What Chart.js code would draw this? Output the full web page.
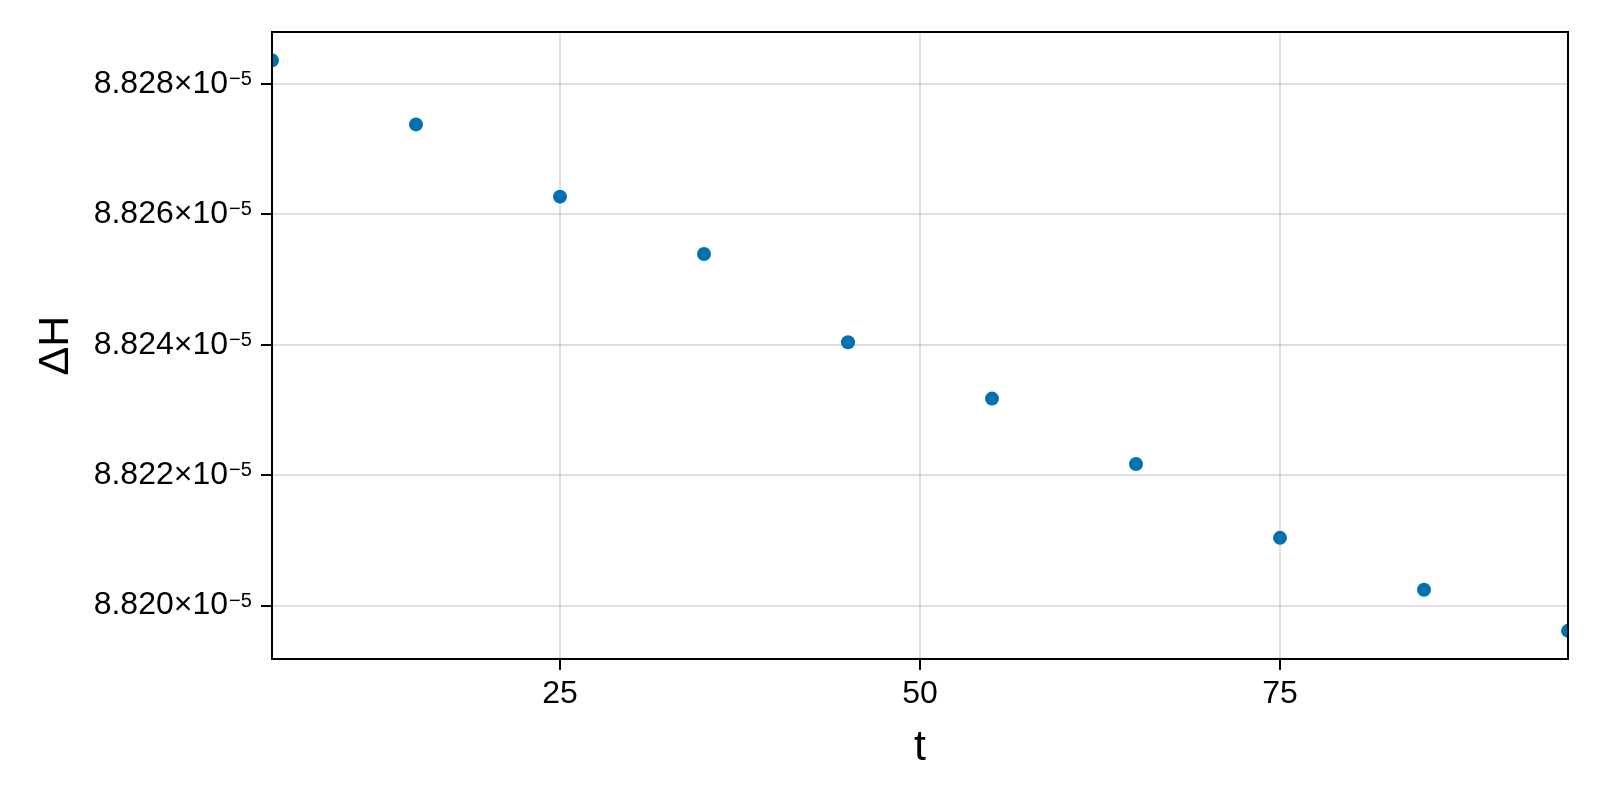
<!DOCTYPE html>
<html>
<head>
<meta charset="utf-8">
<script src="https://cdn.jsdelivr.net/npm/chart.js@4.4.1/dist/chart.umd.min.js"></script>
<style>
  html, body { margin: 0; padding: 0; background: #ffffff; }
  #wrap { width: 1600px; height: 800px; }
</style>
</head>
<body>
<div id="wrap"><canvas id="c" width="1600" height="800"></canvas></div>
<script>
// ---- data ----
const tValues = [5, 15, 25, 35, 45, 55, 65, 75, 85, 95];
// ΔH in units of 1e-5
const deltaH_e5 = [8.828365, 8.827382, 8.826274, 8.825395, 8.824041, 8.823175, 8.822170, 8.821039, 8.820242, 8.819612];
const xTicks = [25, 50, 75];
const yTicks = [8.820, 8.822, 8.824, 8.826, 8.828];
const yTickExponent = '−5';
const xLimits = [5, 95];
const yLimits = [8.81918, 8.82880];
const xLabel = 't';
const yLabel = 'ΔH';

const FONT = "'Liberation Sans', Arial, Helvetica, sans-serif";
const TICK_SIZE = 32;
const SUP_SIZE = 20;
const SUP_GAP = 24;   // horizontal room reserved for the exponent

const framePlugin = {
  id: 'frame',
  afterDatasetsDraw(chart) {
    const { ctx, chartArea: a } = chart;
    ctx.save();
    ctx.strokeStyle = '#000000';
    ctx.lineWidth = 2;
    ctx.strokeRect(a.left, a.top, a.right - a.left, a.bottom - a.top);
    ctx.restore();
  }
};

// draws the superscript exponent after each y tick label
const exponentPlugin = {
  id: 'exponent',
  afterDraw(chart) {
    const s = chart.scales.y;
    const ctx = chart.ctx;
    const tl = s.options.grid.tickLength;
    const xStart = s.right - tl - s.options.ticks.padding + 1;
    ctx.save();
    ctx.fillStyle = '#000000';
    ctx.font = SUP_SIZE + 'px ' + FONT;
    ctx.textAlign = 'left';
    ctx.textBaseline = 'alphabetic';
    s.ticks.forEach(t => {
      const py = s.getPixelForValue(t.value);
      ctx.fillText(yTickExponent, xStart, py + 1);
    });
    ctx.restore();
  }
};

new Chart(document.getElementById('c'), {
  type: 'scatter',
  data: {
    datasets: [{
      data: tValues.map((t, i) => ({ x: t, y: deltaH_e5[i] })),
      backgroundColor: '#0072B2',
      borderWidth: 0,
      pointRadius: 7,
      pointHoverRadius: 7,
      clip: 0
    }]
  },
  options: {
    responsive: false,
    devicePixelRatio: 1,
    animation: false,
    layout: { padding: { top: 32, right: 32, left: 0, bottom: 0 } },
    plugins: { legend: { display: false }, tooltip: { enabled: false } },
    scales: {
      x: {
        type: 'linear',
        min: xLimits[0],
        max: xLimits[1],
        afterBuildTicks: (s) => { s.ticks = xTicks.map(v => ({ value: v })); },
        afterFit: (s) => { s.height = 141; s.paddingLeft = 0; s.paddingRight = 0; },
        ticks: {
          font: { family: FONT, size: TICK_SIZE },
          color: '#000000',
          padding: 5,
          maxRotation: 0,
          callback: (v) => String(v)
        },
        grid: {
          color: 'rgba(0,0,0,0.12)',
          lineWidth: 2,
          tickColor: '#000000',
          tickWidth: 2,
          tickLength: 11
        },
        border: { color: '#000000', width: 2 },
        title: {
          display: true,
          text: xLabel,
          color: '#000000',
          font: { family: FONT, size: 43 },
          padding: { top: 0, bottom: 26 }
        }
      },
      y: {
        type: 'linear',
        min: yLimits[0],
        max: yLimits[1],
        afterBuildTicks: (s) => { s.ticks = yTicks.map(v => ({ value: v })); },
        afterFit: (s) => { s.width = 272; s.paddingTop = 0; s.paddingBottom = 0; },
        ticks: {
          font: { family: FONT, size: TICK_SIZE },
          color: '#000000',
          padding: 9 + SUP_GAP,
          callback: (v) => v.toFixed(3) + '×10'
        },
        grid: {
          color: 'rgba(0,0,0,0.12)',
          lineWidth: 2,
          tickColor: '#000000',
          tickWidth: 2,
          tickLength: 11
        },
        border: { color: '#000000', width: 2 },
        title: {
          display: true,
          text: yLabel,
          color: '#000000',
          font: { family: FONT, size: 43 },
          padding: { top: 30, bottom: 0 }
        }
      }
    }
  },
  plugins: [framePlugin, exponentPlugin]
});
</script>
</body>
</html>
